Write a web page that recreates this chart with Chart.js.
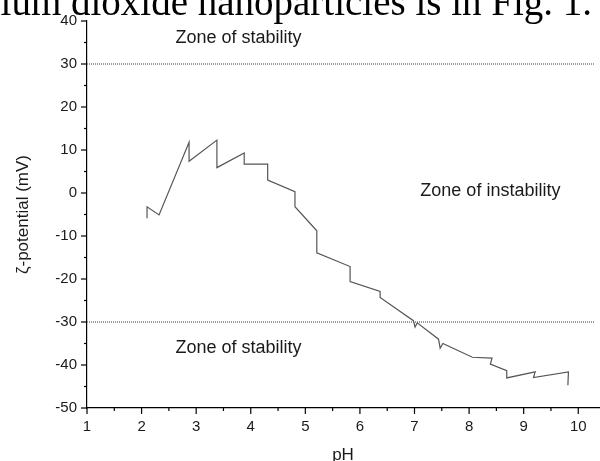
<!DOCTYPE html>
<html>
<head>
<meta charset="utf-8">
<script src="https://cdn.jsdelivr.net/npm/chart.js@4/dist/chart.umd.min.js"></script>
<style>
  html, body { margin: 0; padding: 0; background: #fff; overflow: hidden; }
  #wrap { position: relative; width: 600px; height: 461px; }
  #caption { position: absolute; right: 8px; top: -18px; white-space: nowrap;
    font-family: "Liberation Serif", "Times New Roman", serif; font-size: 39px; line-height: 39px; color: #000; }
  canvas { position: absolute; left: 0; top: 0; }
</style>
</head>
<body>
<div id="wrap">
  <canvas id="chart" width="600" height="461"></canvas>
  <div id="caption">ium dioxide nanoparticles is in Fig. 1.</div>
</div>
<script>
// measured zeta potential vs pH
const phValues = [2.10, 2.10, 2.32, 2.87, 2.87, 3.38, 3.38, 3.88, 3.88, 4.31, 4.31, 4.81, 4.81, 5.21, 5.21,
  5.82, 5.82, 6.37, 6.37, 6.98, 7.01, 7.05, 7.44, 7.47, 7.52, 8.06, 8.42, 8.39, 8.69, 8.69, 9.21, 9.18, 9.82, 9.81];
const zetaValues = [-5.9, -3.2, -5.1, 11.8, 7.4, 12.3, 5.9, 9.3, 6.7, 6.7, 3.0, 0.3, -3.2, -8.8, -13.9,
  -17.1, -20.6, -22.9, -24.3, -29.7, -31.2, -30.2, -34.0, -36.1, -35.0, -38.2, -38.4, -39.8, -41.3, -43.0, -41.6, -42.9, -41.6, -44.7];

// stability thresholds (mV)
const stabilityLimits = [30, -30];
const limitRange = [1, 10.3];

const zoneLabels = ['Zone of stability', 'Zone of instability', 'Zone of stability'];
const zoneX = [2.62, 8.39, 2.62];
const zoneY = [36, 0.5, -36];

const xMin = 1, xMax = 10.38;
const yMin = -50, yMax = 40;

const font = '"Liberation Sans", Arial, sans-serif';

const curve = phValues.map((x, i) => ({ x: x, y: zetaValues[i] }));

const datasets = [{
  data: curve,
  borderColor: '#555',
  borderWidth: 1.2,
  pointRadius: 0,
  tension: 0,
  fill: false
}];
stabilityLimits.forEach(v => {
  datasets.push({
    data: limitRange.map(x => ({ x: x, y: v })),
    borderColor: '#7a7a7a',
    borderWidth: 1.5,
    borderDash: [1, 1],
    pointRadius: 0,
    fill: false
  });
});

// short minor ticks, long major ticks
const tickMarks = {
  id: 'tickMarks',
  afterDraw(chart) {
    const ctx = chart.ctx;
    const xs = chart.scales.x, ys = chart.scales.y;
    ctx.save();
    ctx.strokeStyle = '#000';
    ctx.lineWidth = 1.2;
    xs.ticks.forEach(t => {
      const px = xs.getPixelForValue(t.value);
      const len = Number.isInteger(t.value) ? 6 : 3;
      ctx.beginPath();
      ctx.moveTo(px, xs.top);
      ctx.lineTo(px, xs.top + len);
      ctx.stroke();
    });
    ys.ticks.forEach(t => {
      const py = ys.getPixelForValue(t.value);
      const len = t.value % 10 === 0 ? 6 : 3;
      ctx.beginPath();
      ctx.moveTo(ys.right, py);
      ctx.lineTo(ys.right - len, py);
      ctx.stroke();
    });
    ctx.restore();
  }
};

const zoneText = {
  id: 'zoneText',
  afterDatasetsDraw(chart) {
    const ctx = chart.ctx;
    const xs = chart.scales.x, ys = chart.scales.y;
    ctx.save();
    ctx.fillStyle = '#1a1a1a';
    ctx.font = '18px ' + font;
    ctx.textBaseline = 'middle';
    zoneLabels.forEach((txt, i) => {
      ctx.textAlign = i === 1 ? 'center' : 'left';
      ctx.fillText(txt, xs.getPixelForValue(zoneX[i]), ys.getPixelForValue(zoneY[i]));
    });
    ctx.restore();
  }
};

new Chart(document.getElementById('chart'), {
  type: 'line',
  data: { datasets: datasets },
  options: {
    responsive: false,
    animation: false,
    layout: { padding: { top: 21, right: 1, bottom: 0, left: 0 } },
    plugins: { legend: { display: false }, tooltip: { enabled: false } },
    scales: {
      x: {
        type: 'linear',
        min: xMin, max: xMax,
        afterFit: s => { s.height = 53; },
        ticks: {
          stepSize: 0.5, includeBounds: false, autoSkip: false, maxRotation: 0,
          padding: 4, color: '#1a1a1a', font: { family: font, size: 15 },
          callback: v => Number.isInteger(v) ? String(v) : ''
        },
        grid: { drawOnChartArea: false, drawTicks: true, tickLength: 6, tickColor: 'rgba(0,0,0,0)' },
        border: { display: true, color: '#000', width: 1.2 },
        title: { display: true, text: 'pH', color: '#1a1a1a', font: { family: font, size: 17 }, padding: { top: 0, bottom: -5 } }
      },
      y: {
        min: yMin, max: yMax,
        afterFit: s => { s.width = 87; },
        ticks: {
          stepSize: 5, autoSkip: false, padding: 4, color: '#1a1a1a', font: { family: font, size: 15 },
          callback: v => v % 10 === 0 ? String(v) : ''
        },
        grid: { drawOnChartArea: false, drawTicks: true, tickLength: 6, tickColor: 'rgba(0,0,0,0)' },
        border: { display: true, color: '#000', width: 1.2 },
        title: { display: true, text: 'ζ-potential (mV)', color: '#1a1a1a', font: { family: font, size: 17 }, padding: { top: 13, bottom: 0 } }
      }
    }
  },
  plugins: [tickMarks, zoneText]
});
</script>
</body>
</html>
